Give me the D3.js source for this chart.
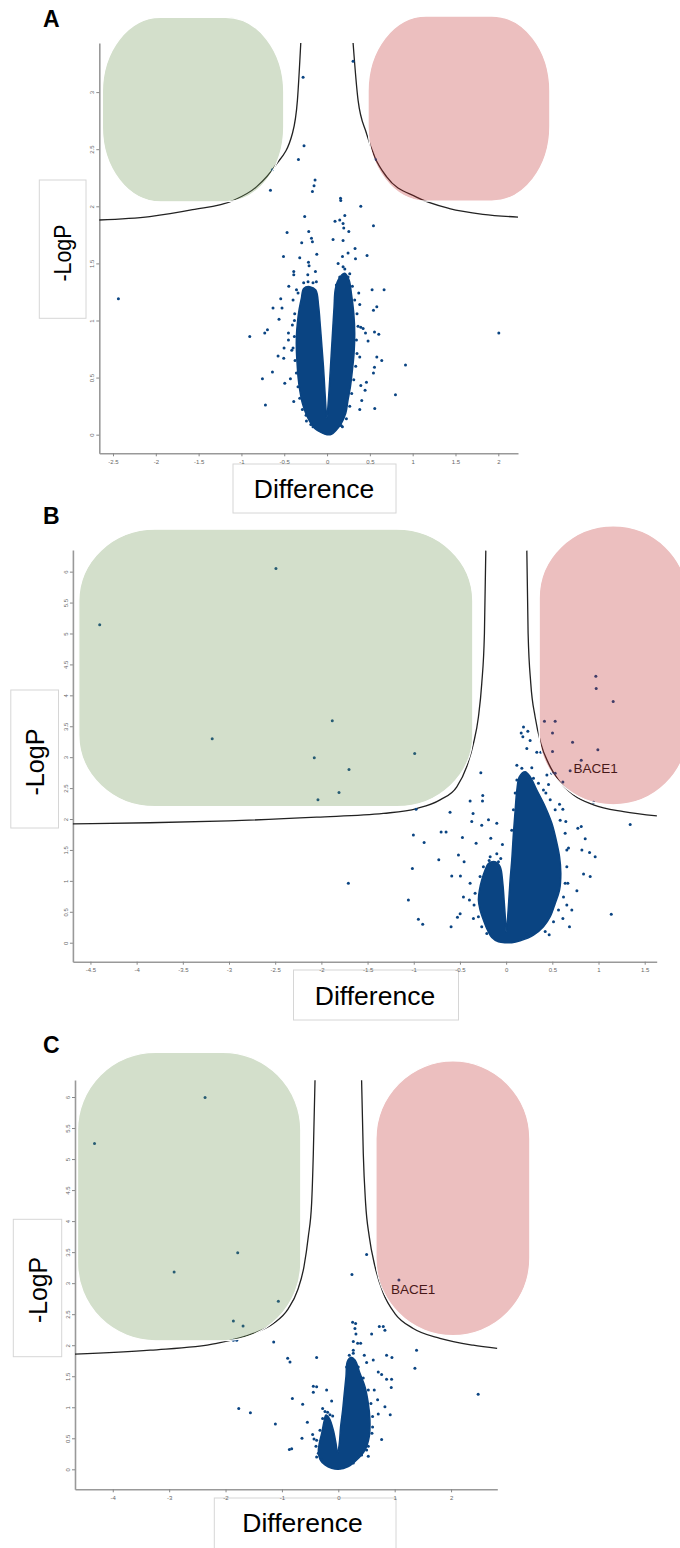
<!DOCTYPE html>
<html>
<head>
<meta charset="utf-8">
<script src="https://cdn.jsdelivr.net/npm/d3@7"></script>
<style>
  body { margin: 0; background: #fff; }
  svg { display: block; font-family: "Liberation Sans", Arial, Helvetica, sans-serif; }
</style>
</head>
<body>
<svg id="volcano" width="680" height="1548"></svg>
<script>
// ---- tick values / labels ----
const xTicksA = [-2.5, -2, -1.5, -1, -0.5, 0, 0.5, 1, 1.5, 2];
const yTicksA = [0, 0.5, 1, 1.5, 2, 2.5, 3];
const xTicksB = [-4.5, -4, -3.5, -3, -2.5, -2, -1.5, -1, -0.5, 0, 0.5, 1, 1.5];
const yTicksB = [0, 0.5, 1, 1.5, 2, 2.5, 3, 3.5, 4, 4.5, 5, 5.5, 6];
const xTicksC = [-4, -3, -2, -1, 0, 1, 2];
const yTicksC = [0, 0.5, 1, 1.5, 2, 2.5, 3, 3.5, 4, 4.5, 5, 5.5, 6];

// ---- individual proteins [difference, -logP] ----
const pointsA = [[0.304,3.27],[-0.280,3.13],[-0.269,2.53],[-0.334,2.41],[-0.638,2.32],[-0.661,2.14],[-0.140,2.23],[-0.152,2.18],[-0.171,2.13],[0.565,2.41],[0.157,2.07],[0.160,2.05],[0.394,2.00],[-0.261,1.91],[0.207,1.92],[0.093,1.87],[0.148,1.88],[0.187,1.85],[0.195,1.81],[0.254,1.78],[0.542,1.83],[-0.467,1.77],[-0.214,1.78],[-0.182,1.72],[-0.171,1.69],[-0.296,1.68],[0.070,1.71],[0.187,1.70],[0.327,1.63],[0.245,1.59],[0.180,1.56],[0.332,1.54],[0.467,1.57],[-0.509,1.56],[-0.319,1.55],[-0.217,1.51],[-0.120,1.58],[-0.210,1.48],[-0.136,1.43],[-0.389,1.43],[-0.389,1.40],[-0.225,1.40],[-0.447,1.30],[-0.357,1.27],[0.129,1.50],[0.207,1.45],[0.265,1.41],[0.526,1.27],[0.666,1.27],[0.370,1.24],[0.382,1.14],[0.581,1.12],[0.542,1.09],[-2.437,1.19],[-0.541,1.19],[-0.631,1.11],[-0.526,1.11],[-0.561,1.01],[-0.381,1.00],[2.006,0.89],[-0.903,0.86],[-0.728,0.89],[-0.696,0.92],[-0.451,0.89],[-0.451,0.83],[0.449,0.89],[0.554,0.90],[0.604,0.88],[0.479,0.82],[0.421,0.93],[0.394,0.94],[-0.502,0.76],[-0.412,0.74],[-0.572,0.69],[-0.506,0.67],[0.382,0.68],[0.581,0.68],[0.639,0.65],[0.916,0.61],[0.554,0.59],[-0.638,0.55],[-0.755,0.49],[0.542,0.54],[-0.494,0.45],[-0.428,0.49],[0.460,0.46],[0.444,0.39],[0.394,0.43],[0.799,0.35],[0.405,0.30],[0.557,0.23],[0.382,0.22],[-0.720,0.26],[-0.389,0.29],[-0.245,0.17],[-0.190,0.09],[0.164,0.08],
  [-0.397,1.18],[-0.378,1.06],[-0.405,0.96],[-0.382,0.86],[-0.397,0.76],[-0.374,0.65],[-0.358,0.54],[-0.339,0.42],[-0.319,0.32],[-0.288,0.22],[-0.241,0.12],[-0.164,0.07],[-0.339,1.24],[-0.273,1.33],[-0.222,1.34],[-0.164,1.33],[-0.125,1.34],
  [0.323,1.18],[0.350,1.06],[0.362,0.95],[0.343,0.83],[0.350,0.71],[0.335,0.60],[0.312,0.48],[0.288,0.36],[0.265,0.25],[0.226,0.14],[0.179,0.07],[0.296,1.30],[0.245,1.38],[0.148,1.38],[0.109,1.31],[0.187,1.47]];

const pointsB = [[-2.492,6.05],[-3.182,3.30],[-1.882,3.59],[-2.077,2.99],[-1.701,2.80],[-0.990,3.06],[-1.809,2.43],[-2.037,2.31],[-1.708,0.96],[-4.40,5.14],
  [0.971,4.31],[0.975,4.11],[1.159,3.90],[0.415,3.58],[0.531,3.58],[0.502,3.39],[0.719,3.24],[0.993,3.12],[0.502,3.09],[0.813,2.95],[0.693,2.78],[0.614,2.60],[0.495,2.74],[0.531,2.74],[0.946,2.27],[0.376,3.08],
  [0.188,3.49],[0.235,3.42],[0.163,3.39],[0.181,3.33],[0.260,3.27],[0.224,3.14],[0.332,3.08],[-0.274,2.75],[0.116,2.87],[0.170,2.82],[0.278,2.83],[0.441,2.71],[0.459,2.56],[0.430,2.42],[-0.253,2.38],[-0.256,2.29],[-0.390,2.29],[-0.975,2.16],[-0.607,2.11],[-0.358,2.09],[0.578,2.24],[0.614,2.16],[0.646,1.96],[0.776,1.85],[0.813,1.88],[1.343,1.91],[-0.191,1.99],[-0.101,1.93],[-0.372,1.96],[-0.264,1.90],[-0.704,1.79],[-0.650,1.79],[-1.004,1.74],[-0.888,1.62],[-0.473,1.70],[-0.325,1.61],[-0.166,1.69],[-0.040,1.59],[0.856,1.68],[0.964,1.39],[0.903,1.46],[0.820,1.50],[0.675,1.53],[-0.729,1.34],[-0.516,1.42],[-0.455,1.31],[-0.184,1.33],[-0.083,1.31],[-1.015,1.20],[-0.589,1.08],[-0.495,1.08],[-0.390,0.96],[0.838,1.11],[0.910,1.07],[0.766,0.84],[0.668,0.96],[-1.058,0.69],[-0.462,0.74],[-0.397,0.69],[-0.950,0.38],[-0.903,0.30],[-0.596,0.26],[-0.527,0.41],[-0.498,0.47],[-0.354,0.39],[0.657,0.61],[0.711,0.53],[0.614,0.39],[0.686,0.26],[1.138,0.46],[0.466,0.13],[0.224,0.14],
  [0.639,1.77],[0.657,1.50],[0.657,1.23],[0.639,0.96],[0.621,0.74],[0.567,0.53],[0.513,0.34],[0.423,0.18],[0.585,1.98],[0.531,2.15],[0.477,2.31],[0.404,2.47],[0.350,2.58],[0.296,2.66],
  [0.116,2.63],[0.098,2.42],[0.079,2.15],[0.061,1.82],
  [-0.336,0.80],[-0.347,0.61],[-0.300,0.42],[-0.264,0.26],[-0.209,0.15],[-0.282,1.07],[-0.246,1.23],[-0.173,1.39],[-0.101,1.44],[-0.058,1.36]];

const pointsC = [[-2.363,5.99],[-4.324,5.25],[-1.784,3.49],[-2.912,3.18],[-1.063,2.71],[-1.861,2.39],[-1.689,2.31],[-1.861,2.08],[-1.802,2.08],[0.502,3.46],[0.242,3.14],[1.075,3.05],
  [-1.146,2.05],[1.388,1.92],[1.359,1.63],[2.481,1.21],[-0.898,1.79],[-0.857,1.73],[-0.384,1.80],[-0.815,1.14],[-0.632,1.05],[-1.766,0.98],[-1.559,0.91],[-1.116,0.73],[-0.644,0.50],[-0.868,0.32],[-0.827,0.33],
  [0.727,2.30],[0.797,2.30],[0.827,2.24],[0.591,2.18],[0.254,2.37],[0.307,2.35],[0.295,2.27],[0.313,2.18],[0.266,2.06],[0.343,2.03],[0.396,2.03],[0.266,1.92],[0.461,1.84],[0.856,1.84],[0.951,1.80],[0.620,1.76],[0.502,1.72],[0.709,1.57],[0.768,1.53],[0.856,1.45],[0.945,1.45],[0.939,1.32],[0.638,1.28],[0.697,1.12],[0.827,1.01],[0.709,0.89],[0.921,0.88],[0.608,0.68],[0.768,0.48],[0.502,0.31],[0.532,0.21],
  [-0.443,1.34],[-0.384,1.33],[-0.443,1.24],[-0.207,1.28],[-0.118,1.10],[-0.278,0.98],[-0.189,0.92],[-0.100,0.86],[-0.549,0.76],[-0.455,0.56],[-0.431,0.49],[-0.396,0.37],[-0.384,0.20],
  [0.354,1.65],[0.443,1.47],[0.532,1.28],[0.579,1.06],[0.608,0.85],[0.597,0.58],[0.532,0.37],[0.413,0.23],[0.266,0.10],[0.195,1.84],[0.266,1.87],[0.148,1.65],
  [-0.384,0.47],[-0.354,0.26],[-0.295,0.15],[-0.325,0.63],[-0.278,0.82],[-0.236,0.93],[-0.148,0.88]];

// ---- outline of the saturated point cloud [difference, -logP] ----
const cloudA = [[0,0],[-0.066,0.018],[-0.144,0.055],[-0.202,0.114],[-0.249,0.187],[-0.288,0.274],[-0.319,0.391],[-0.339,0.508],[-0.350,0.625],[-0.358,0.741],[-0.358,0.858],[-0.347,0.975],[-0.327,1.092],[-0.300,1.194],[-0.273,1.281],[-0.202,1.296],[-0.132,1.267],[-0.098,1.121],[-0.078,0.946],[-0.060,0.771],[-0.042,0.595],[-0.028,0.420],[-0.014,0.245],[-0.003,0.143],[0.010,0.245],[0.026,0.420],[0.040,0.595],[0.054,0.771],[0.068,0.946],[0.082,1.121],[0.095,1.267],[0.129,1.354],[0.206,1.413],[0.257,1.354],[0.284,1.238],[0.312,1.062],[0.323,0.887],[0.315,0.712],[0.296,0.566],[0.273,0.420],[0.245,0.304],[0.218,0.187],[0.167,0.099],[0.109,0.041],[0.051,0.003]];
const cloudB = [[0,0],[-0.083,0.016],[-0.155,0.086],[-0.202,0.205],[-0.246,0.367],[-0.282,0.528],[-0.300,0.690],[-0.289,0.852],[-0.264,1.013],[-0.228,1.175],[-0.191,1.283],[-0.119,1.310],[-0.065,1.229],[-0.036,0.960],[-0.022,0.690],[-0.007,0.367],[0,0.178],[0.014,0.367],[0.029,0.690],[0.043,1.013],[0.061,1.337],[0.079,1.768],[0.098,2.146],[0.116,2.469],[0.144,2.685],[0.206,2.766],[0.260,2.685],[0.332,2.469],[0.423,2.199],[0.495,1.930],[0.542,1.660],[0.578,1.391],[0.592,1.121],[0.578,0.852],[0.531,0.636],[0.477,0.420],[0.404,0.259],[0.296,0.124],[0.152,0.032],[0.061,0]];
const cloudC = [[0,0],[-0.118,0.016],[-0.236,0.070],[-0.325,0.161],[-0.354,0.285],[-0.337,0.419],[-0.295,0.580],[-0.254,0.768],[-0.219,0.875],[-0.159,0.822],[-0.089,0.634],[-0.041,0.419],[-0.012,0.258],[0.018,0.419],[0.041,0.687],[0.077,0.956],[0.106,1.224],[0.136,1.493],[0.159,1.735],[0.219,1.804],[0.295,1.762],[0.384,1.547],[0.473,1.332],[0.532,1.063],[0.561,0.795],[0.549,0.526],[0.473,0.311],[0.325,0.150],[0.177,0.043]];

// ---- significance threshold curves (left / right branch) ----
const threshA_left  = [[-2.66,1.88],[-2.07,1.91],[-1.57,1.97],[-1.10,2.05],[-0.825,2.17],[-0.611,2.35],[-0.404,2.64],[-0.346,2.93],[-0.307,3.43]];
const threshA_right = [[0.304,3.43],[0.362,2.93],[0.46,2.64],[0.558,2.43],[0.694,2.26],[1.044,2.08],[1.43,1.98],[1.82,1.93],[2.23,1.905]];
const threshB_left  = [[-4.69,1.92],[-3.86,1.94],[-3.0,1.97],[-2.051,2.03],[-1.329,2.09],[-0.968,2.17],[-0.715,2.31],[-0.534,2.52],[-0.426,2.85],[-0.354,3.22],[-0.300,3.65],[-0.264,4.19],[-0.235,5.00],[-0.220,6.34]];
const threshB_right = [[0.224,6.34],[0.238,5.00],[0.267,4.19],[0.314,3.65],[0.376,3.22],[0.459,2.90],[0.567,2.63],[0.730,2.39],[0.946,2.23],[1.271,2.12],[1.632,2.05]];
const threshC_left  = [[-4.67,1.855],[-3.337,1.92],[-2.156,2.03],[-1.506,2.19],[-1.152,2.35],[-0.886,2.59],[-0.721,2.89],[-0.608,3.27],[-0.532,3.75],[-0.473,4.29],[-0.443,5.09],[-0.413,6.27]];
const threshC_right = [[0.413,6.27],[0.443,5.09],[0.484,4.29],[0.549,3.75],[0.650,3.27],[0.797,2.84],[1.004,2.51],[1.329,2.27],[1.802,2.11],[2.392,2.00],[2.817,1.95]];

// ---- shaded regions [x0, x1, y0, y1] in data units ----
const downA = [-2.624, -0.506, 2.040, 3.655], upA = [0.479, 2.602, 2.046, 3.666];
const downB = [-4.626, -0.361, 2.200, 6.686], upB = [0.358, 1.961, 2.230, 6.740];
const downC = [-4.625, -0.666, 2.072, 6.720], upC = [0.668, 3.397, 2.153, 6.580];

// ---- labelled protein ----
const labelB = ["BACE1", 0.729, 2.74];
const labelC = ["BACE1", 0.934, 2.825];

const panels = [
  { letter: "A", lx: 43, ly: 27, pts: pointsA, cloud: cloudA, left: threshA_left, right: threshA_right,
    down: downA, up: upA, label: null, xTicks: xTicksA, yTicks: yTicksA,
    xDom: [-2.66, 2.23], xRange: [99.3, 518], yDom: [-0.163, 3.43], yRange: [453.3, 43],
    rx: 58, ry: 75,
    diff: { x: 233, y: 464, w: 163, h: 49, tx: 314, ty: 498 },
    logp: { x: 39.3, y: 180, w: 46.7, h: 138.3, bx: 71, cy: 253, fs: 23, len: 57 } },
  { letter: "B", lx: 43, ly: 524, pts: pointsB, cloud: cloudB, left: threshB_left, right: threshB_right,
    down: downB, up: upB, label: labelB, xTicks: xTicksB, yTicks: yTicksB,
    xDom: [-4.69, 1.63], xRange: [72.9, 656.7], yDom: [-0.307, 6.35], yRange: [961.7, 550],
    rx: 76, ry: 72,
    diff: { x: 293.5, y: 970, w: 165, h: 50, tx: 375, ty: 1005 },
    logp: { x: 10.8, y: 690, w: 47.7, h: 138, bx: 44, cy: 762, fs: 25, len: 67 } },
  { letter: "C", lx: 43, ly: 1053, pts: pointsC, cloud: cloudC, left: threshC_left, right: threshC_right,
    down: downC, up: upC, label: labelC, xTicks: xTicksC, yTicks: yTicksC,
    xDom: [-4.67, 2.82], xRange: [75, 497.3], yDom: [-0.322, 6.274], yRange: [1489.3, 1080],
    rx: 78, ry: 78,
    diff: { x: 214.3, y: 1498, w: 181.7, h: 60, tx: 302.5, ty: 1532 },
    logp: { x: 13.3, y: 1219.3, w: 48.4, h: 137.4, bx: 47, cy: 1290, fs: 25, len: 66 } }
];

const dotColor = "#0a4482";
const fmt = d => String(d);
const svg = d3.select("#volcano");

panels.forEach(function(p) {
  const x = d3.scaleLinear().domain(p.xDom).range(p.xRange);
  const y = d3.scaleLinear().domain(p.yDom).range(p.yRange);
  const g = svg.append("g");

  // panel letter
  g.append("text")
    .attr("x", p.lx).attr("y", p.ly)
    .attr("font-size", 23).attr("font-weight", "bold").attr("fill", "#000")
    .text(p.letter);

  // axis title boxes
  g.append("rect")
    .attr("x", p.diff.x).attr("y", p.diff.y).attr("width", p.diff.w).attr("height", p.diff.h)
    .attr("fill", "#fff").attr("stroke", "#d6d6d6").attr("stroke-width", 1);
  g.append("text")
    .attr("x", p.diff.tx).attr("y", p.diff.ty)
    .attr("text-anchor", "middle").attr("font-size", 26.5).attr("fill", "#000")
    .text("Difference");

  g.append("rect")
    .attr("x", p.logp.x).attr("y", p.logp.y).attr("width", p.logp.w).attr("height", p.logp.h)
    .attr("fill", "#fff").attr("stroke", "#d6d6d6").attr("stroke-width", 1);
  g.append("text")
    .attr("transform", `translate(${p.logp.bx},${p.logp.cy}) rotate(-90)`)
    .attr("text-anchor", "middle").attr("font-size", p.logp.fs)
    .attr("textLength", p.logp.len).attr("lengthAdjust", "spacingAndGlyphs")
    .attr("fill", "#000")
    .text("-LogP");

  // axes
  const xAxis = d3.axisBottom(x).tickValues(p.xTicks).tickFormat(fmt).tickSize(3).tickSizeOuter(0);
  const yAxis = d3.axisLeft(y).tickValues(p.yTicks).tickFormat(fmt).tickSize(3).tickSizeOuter(0);

  const gx = g.append("g")
    .attr("transform", `translate(0,${p.yRange[0]})`)
    .call(xAxis);
  gx.selectAll("text").attr("font-size", 6).attr("fill", "#666").attr("y", 6);
  gx.selectAll(".tick line").attr("stroke", "#888");
  gx.select(".domain").attr("stroke", "#999").attr("stroke-width", 1.6);

  const gy = g.append("g")
    .attr("transform", `translate(${p.xRange[0]},0)`)
    .call(yAxis);
  gy.selectAll("text")
    .attr("font-size", 6).attr("fill", "#666")
    .attr("x", 0).attr("y", -5).attr("dy", null)
    .attr("text-anchor", "middle")
    .attr("transform", "rotate(-90)");
  gy.selectAll(".tick line").attr("stroke", "#888");
  gy.select(".domain").attr("stroke", "#999").attr("stroke-width", 1.6);

  // threshold curves
  const line = d3.line().x(d => x(d[0])).y(d => y(d[1])).curve(d3.curveMonotoneX);
  [p.left, p.right].forEach(function(c) {
    g.append("path").datum(c)
      .attr("d", line)
      .attr("fill", "none").attr("stroke", "#222").attr("stroke-width", 1.3);
  });

  // saturated cloud
  g.append("path").datum(p.cloud)
    .attr("d", d3.line().x(d => x(d[0])).y(d => y(d[1])).curve(d3.curveCatmullRomClosed))
    .attr("fill", dotColor).attr("stroke", dotColor).attr("stroke-width", 1.5)
    .attr("stroke-linejoin", "round");

  // individual points
  g.selectAll("circle.pt").data(p.pts).enter()
    .append("circle")
    .attr("class", "pt")
    .attr("cx", d => x(d[0])).attr("cy", d => y(d[1]))
    .attr("r", 1.5)
    .attr("fill", dotColor);

  // labelled protein
  if (p.label) {
    g.append("text")
      .attr("x", x(p.label[1])).attr("y", y(p.label[2]))
      .attr("font-size", 13.5).attr("fill", "#111")
      .text(p.label[0]);
  }

  // shaded regions (drawn on top, translucent)
  [[p.down, "rgba(108,148,82,0.3)"], [p.up, "rgba(192,42,42,0.3)"]].forEach(function(r) {
    const b = r[0];
    const rw = x(b[1]) - x(b[0]);
    const rh = y(b[2]) - y(b[3]);
    g.append("rect")
      .attr("x", x(b[0])).attr("y", y(b[3]))
      .attr("width", rw).attr("height", rh)
      .attr("rx", Math.min(p.rx, rw / 2)).attr("ry", Math.min(p.ry, rh / 2))
      .attr("fill", r[1])
      .attr("stroke", "#fff").attr("stroke-width", 1.2);
  });
});
</script>
</body>
</html>
